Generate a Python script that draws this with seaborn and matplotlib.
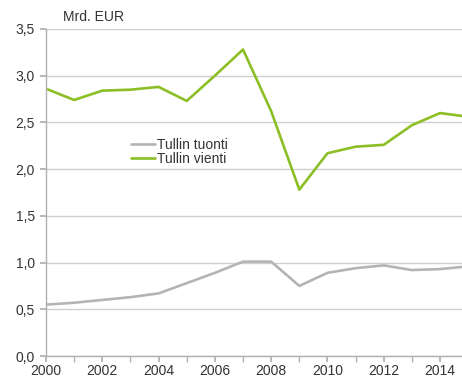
import matplotlib
matplotlib.use("Agg")
import matplotlib.pyplot as plt
from matplotlib.ticker import MultipleLocator, FuncFormatter
import seaborn as sns
import pandas as pd

years = list(range(2000, 2016))
tuonti = [0.55, 0.57, 0.60, 0.63, 0.67, 0.78, 0.89, 1.01, 1.01, 0.75,
          0.89, 0.94, 0.97, 0.92, 0.93, 0.96]
vienti = [2.86, 2.74, 2.84, 2.85, 2.88, 2.73, 3.00, 3.28, 2.62, 1.78,
          2.17, 2.24, 2.26, 2.47, 2.60, 2.56]
series_names = ["Tullin tuonti", "Tullin vienti"]
colors = ["#b4b4b4", "#8cbf26"]

df = pd.DataFrame({
    "Vuosi": years * 2,
    "Arvo": tuonti + vienti,
    "Sarja": [series_names[0]] * len(years) + [series_names[1]] * len(years),
})

sns.set_theme(style="white")
plt.rcParams["font.family"] = ["Liberation Sans", "DejaVu Sans"]

fig = plt.figure(figsize=(4.62, 3.81), dpi=100)
ax = fig.add_axes([0.0996, 0.0656, 0.9004, 0.8584])

sns.lineplot(data=df, x="Vuosi", y="Arvo", hue="Sarja",
             palette=dict(zip(series_names, colors)), linewidth=1.9,
             ax=ax, legend=True)

ax.set_xlim(2000, 2014.78)
ax.set_ylim(0, 3.5)
ax.yaxis.set_major_locator(MultipleLocator(0.5))
ax.xaxis.set_major_locator(MultipleLocator(2))
ax.xaxis.set_minor_locator(MultipleLocator(1))
ax.yaxis.set_major_formatter(FuncFormatter(lambda v, p: f"{v:.1f}".replace(".", ",")))
ax.xaxis.set_major_formatter(FuncFormatter(lambda v, p: f"{int(v)}"))

ax.grid(axis="y", color="#cfcfcf", linewidth=1.0)
ax.set_axisbelow(True)
for s in ["top", "right"]:
    ax.spines[s].set_visible(False)
for s in ["left", "bottom"]:
    ax.spines[s].set_color("#b0b0b0")
    ax.spines[s].set_linewidth(1.0)

ax.tick_params(axis="x", which="both", direction="out", length=4, color="#b0b0b0",
               bottom=True, labelsize=10, labelcolor="#333333", pad=2)
ax.tick_params(axis="y", which="major", direction="out", length=4, color="#b0b0b0",
               left=True, labelsize=10, labelcolor="#333333", pad=4)
ax.set_xlabel("")
ax.set_ylabel("")

ax.text(0.04, 1.015, "Mrd. EUR", transform=ax.transAxes, fontsize=10,
        color="#333333", ha="left", va="bottom")

leg = ax.legend(loc="upper left", bbox_to_anchor=(0.19, 0.685), frameon=False,
                fontsize=10, handlelength=1.75, handletextpad=0.15,
                labelspacing=0.05, borderaxespad=0)
for t in leg.get_texts():
    t.set_color("#333333")

fig.savefig("out.png", dpi=100)
